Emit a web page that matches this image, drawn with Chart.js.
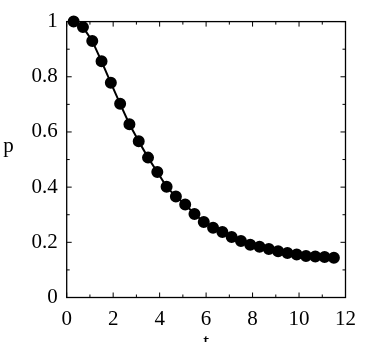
<!DOCTYPE html>
<html>
<head>
<meta charset="utf-8">
<script src="https://cdn.jsdelivr.net/npm/chart.js@4/dist/chart.umd.min.js"></script>
<style>
html,body{margin:0;padding:0;background:#fff;}
#wrap{width:365px;height:342px;position:relative;}
</style>
</head>
<body>
<div id="wrap"><canvas id="c" width="365" height="342"></canvas></div>
<script>
const tValues = [0.3,0.7,1.1,1.5,1.9,2.3,2.7,3.1,3.5,3.9,4.3,4.7,5.1,5.5,5.9,6.3,6.7,7.1,7.5,7.9,8.3,8.7,9.1,9.5,9.9,10.3,10.7,11.1,11.5];
const pValues = [1.0,0.98,0.93,0.856,0.778,0.702,0.628,0.566,0.507,0.455,0.401,0.366,0.337,0.303,0.274,0.253,0.237,0.219,0.205,0.191,0.184,0.176,0.168,0.161,0.156,0.150,0.149,0.147,0.144];
const xTicks = [0,2,4,6,8,10,12];
const xMinorTicks = [1,3,5,7,9,11];
const yTicks = [0,0.2,0.4,0.6,0.8,1];
const yMinorTicks = [0.1,0.3,0.5,0.7,0.9];
const xTitle = 't';
const yTitle = 'p';

const FONT = '"Liberation Serif", "Times New Roman", serif';

const framePlugin = {
  id: 'frame',
  afterDraw(chart) {
    const {ctx, chartArea: a, scales: {x, y}} = chart;
    ctx.save();
    ctx.strokeStyle = '#000';
    ctx.lineWidth = 1.3;
    ctx.strokeRect(a.left, a.top, a.right - a.left, a.bottom - a.top);
    ctx.lineWidth = 1;
    ctx.beginPath();
    const tick = (vals, len) => {
      vals.forEach(v => {
        const px = x.getPixelForValue(v);
        ctx.moveTo(px, a.bottom); ctx.lineTo(px, a.bottom - len);
        ctx.moveTo(px, a.top); ctx.lineTo(px, a.top + len);
      });
    };
    const ticky = (vals, len) => {
      vals.forEach(v => {
        const py = y.getPixelForValue(v);
        ctx.moveTo(a.left, py); ctx.lineTo(a.left + len, py);
        ctx.moveTo(a.right, py); ctx.lineTo(a.right - len, py);
      });
    };
    tick(xTicks, 5); tick(xMinorTicks, 3);
    ticky(yTicks, 5); ticky(yMinorTicks, 3);
    ctx.stroke();
    ctx.fillStyle = '#000';
    ctx.font = '21px ' + FONT;
    ctx.textAlign = 'center';
    ctx.textBaseline = 'alphabetic';
    ctx.fillText(yTitle, 8.5, 151.5);
    ctx.fillText(xTitle, x.getPixelForValue(6), 348);
    ctx.restore();
  }
};

new Chart(document.getElementById('c'), {
  type: 'scatter',
  data: {
    datasets: [{
      data: tValues.map((t, i) => ({x: t, y: pValues[i]})),
      showLine: true,
      borderColor: '#000',
      backgroundColor: '#000',
      borderWidth: 2,
      pointRadius: 5,
      pointHoverRadius: 5,
      tension: 0,
      clip: false
    }]
  },
  options: {
    responsive: false,
    animation: false,
    events: [],
    layout: {padding: {top: 9, right: 12, left: 0, bottom: 0}},
    plugins: {legend: {display: false}, tooltip: {enabled: false}},
    scales: {
      x: {
        type: 'linear', min: 0, max: 12,
        afterBuildTicks(s) { s.ticks = xTicks.map(v => ({value: v})); },
        afterFit(s) { s.height = 44.5; },
        grid: {display: false, drawTicks: false},
        border: {display: false},
        ticks: {color: '#000', padding: 9, maxRotation: 0, font: {family: FONT, size: 21}}
      },
      y: {
        type: 'linear', min: 0, max: 1,
        afterBuildTicks(s) { s.ticks = yTicks.map(v => ({value: v})); },
        afterFit(s) { s.width = 66.7; },
        grid: {display: false, drawTicks: false},
        border: {display: false},
        ticks: {color: '#000', padding: 9, font: {family: FONT, size: 21},
          callback: v => String(v)}
      }
    }
  },
  plugins: [framePlugin]
});
</script>
</body>
</html>
